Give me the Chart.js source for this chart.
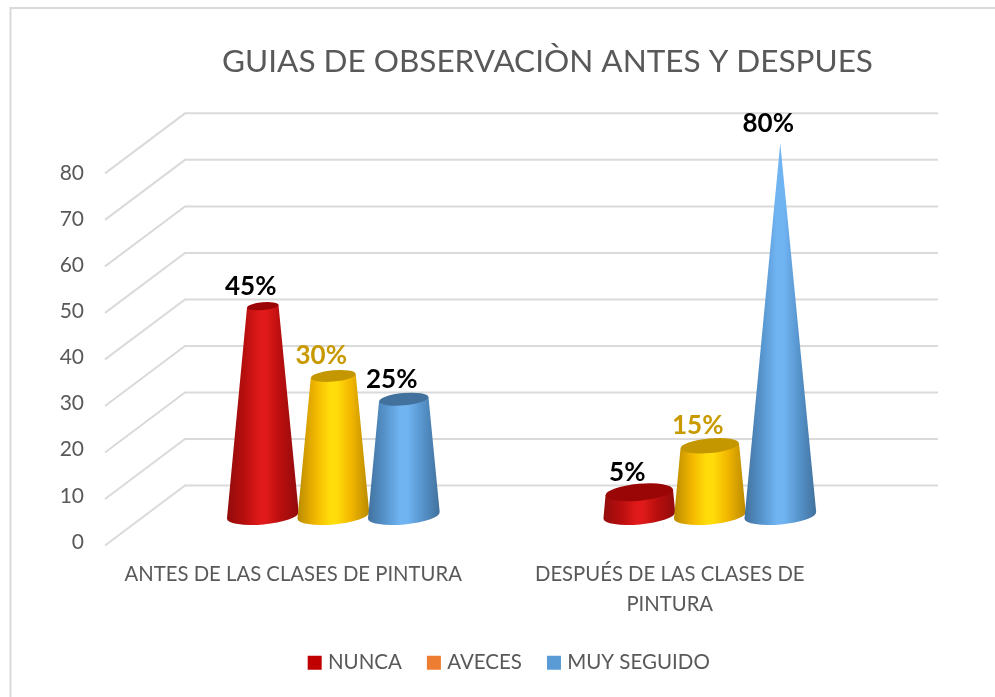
<!DOCTYPE html>
<html>
<head>
<meta charset="utf-8">
<style>
  html, body { margin: 0; background: #fff; }
  #wrap { width: 995px; height: 697px; }
</style>
<script src="https://cdn.jsdelivr.net/npm/chart.js@4/dist/chart.umd.min.js"></script>
</head>
<body>
<div id="wrap"><canvas id="chart" width="995" height="697"></canvas></div>
<script>
const chartTitle = 'GUIAS DE OBSERVACIÒN ANTES Y DESPUES';
const categories = ['ANTES DE LAS CLASES DE PINTURA', ['DESPUÉS DE LAS CLASES DE', 'PINTURA']];
const nunca = [45, 5];
const aveces = [30, 15];
const muySeguido = [25, 80];
const yTicks = [0, 10, 20, 30, 40, 50, 60, 70, 80];

const FONT = 'Lato, Carlito, sans-serif';
const GREY = '#595959';
const DEPTH_X = 80;
const DEPTH_Y = 60;
const CONE_TILT = -0.09;
const CONE_FLAT = 0.25;

// colours of the cone sides, edge to centre, and of the top cap
const coneStyles = [
  { edge: '#920c0c', mid: '#b80e0e', light: '#e01a1a', cap: '#9a0505', label: '#000000' },
  { edge: '#b98a00', mid: '#f2b600', light: '#ffdc0a', cap: '#c49600', label: '#c99a00' },
  { edge: '#41719c', mid: '#5795ce', light: '#70b4f2', cap: '#41719c', label: '#000000' },
];

const wallPlugin = {
  id: 'wall',
  afterLayout(chart) {
    // the title sits to the right of the middle in the reference
    chart.titleBlock.left = 100;
    chart.titleBlock.right = 995;
  },
  beforeDraw(chart) {
    // frame of the picture, cut off on the right and at the bottom
    const { ctx } = chart;
    ctx.save();
    ctx.strokeStyle = '#d9d9d9';
    ctx.lineWidth = 2;
    ctx.beginPath();
    ctx.moveTo(10.5, 697);
    ctx.lineTo(10.5, 8);
    ctx.lineTo(995, 8);
    ctx.stroke();
    ctx.restore();
  },
  beforeDatasetsDraw(chart) {
    const { ctx, chartArea, scales } = chart;
    const y = scales.y;
    const y0 = y.getPixelForValue(0);
    ctx.save();
    ctx.strokeStyle = '#dadada';
    ctx.lineWidth = 2;
    yTicks.forEach((tick) => {
      const lineY = y0 - (y0 - y.getPixelForValue(tick)) * 1.008;
      ctx.beginPath();
      ctx.moveTo(chartArea.left, lineY + 3.5);
      ctx.lineTo(chartArea.left + DEPTH_X, lineY + 3.5 - DEPTH_Y);
      ctx.lineTo(chartArea.right + DEPTH_X, lineY + 3.5 - DEPTH_Y);
      ctx.stroke();
    });
    ctx.restore();

    // cones stand halfway into the floor
    const peak = y.max;
    chart.data.datasets.forEach((dataset, d) => {
      const meta = chart.getDatasetMeta(d);
      meta.data.forEach((bar, i) => {
        const value = dataset.data[i];
        const cx = bar.x + DEPTH_X / 2;
        const baseY = y0 + 3.5 - DEPTH_Y / 2;
        const topY = baseY - (y0 - y.getPixelForValue(value)) * 1.008;
        const baseR = bar.width / 2 * 1.02;
        const topR = baseR * (1 - value / peak);
        drawCone(ctx, cx, baseY, topY, baseR, topR, coneStyles[d]);
        ctx.save();
        ctx.font = 'bold 26px ' + FONT;
        ctx.fillStyle = coneStyles[d].label;
        ctx.textAlign = 'center';
        ctx.textBaseline = 'middle';
        ctx.fillText(value + '%', cx - 12, topY - 20);
        ctx.restore();
      });
    });
    return false;
  },
};

function drawCone(ctx, cx, baseY, topY, baseR, topR, style) {
  const grad = ctx.createLinearGradient(cx - baseR, 0, cx + baseR, 0);
  grad.addColorStop(0, style.edge);
  grad.addColorStop(0.25, style.mid);
  grad.addColorStop(0.45, style.light);
  grad.addColorStop(0.55, style.light);
  grad.addColorStop(0.75, style.mid);
  grad.addColorStop(1, style.edge);
  const tiltY = Math.sin(CONE_TILT);
  ctx.save();
  ctx.fillStyle = grad;
  ctx.beginPath();
  ctx.moveTo(cx - topR, topY - topR * tiltY);
  ctx.lineTo(cx + topR, topY + topR * tiltY);
  ctx.lineTo(cx + baseR, baseY + baseR * tiltY);
  ctx.ellipse(cx, baseY, baseR, baseR * CONE_FLAT, CONE_TILT, 0, Math.PI);
  ctx.closePath();
  ctx.fill();
  if (topR > 0) {
    ctx.fillStyle = style.cap;
    ctx.beginPath();
    ctx.ellipse(cx, topY, topR, topR * CONE_FLAT, CONE_TILT, 0, Math.PI * 2);
    ctx.fill();
  }
  ctx.restore();
}

new Chart(document.getElementById('chart'), {
  type: 'bar',
  data: {
    labels: categories,
    datasets: [
      { label: 'NUNCA', data: nunca, backgroundColor: '#c00000' },
      { label: 'AVECES', data: aveces, backgroundColor: '#ed7d31' },
      { label: 'MUY SEGUIDO', data: muySeguido, backgroundColor: '#5b9bd5' },
    ],
  },
  plugins: [wallPlugin],
  options: {
    responsive: false,
    animation: false,
    categoryPercentage: 0.5618,
    barPercentage: 1,
    layout: { padding: { left: 26.5, right: 0, top: 43, bottom: 14 } },
    plugins: {
      title: {
        display: true,
        text: chartTitle,
        color: GREY,
        font: { family: FONT, size: 31.5, weight: 'normal' },
        padding: { top: 0, bottom: 92 },
      },
      legend: {
        position: 'bottom',
        labels: {
          usePointStyle: true,
          pointStyle: 'rect',
          boxWidth: 6,
          boxHeight: 14,
          color: GREY,
          font: { family: FONT, size: 20.5 },
          padding: 29,
        },
      },
      tooltip: { enabled: false },
    },
    scales: {
      x: {
        grid: { display: false },
        border: { display: false },
        ticks: {
          color: GREY,
          font: { family: FONT, size: 20.3, lineHeight: 1.5 },
          autoSkip: false,
          maxRotation: 0,
          minRotation: 0,
          padding: 9,
        },
        afterFit(scale) { scale.height = 81.5; },
      },
      y: {
        min: 0,
        max: 80,
        grid: { display: false },
        border: { display: false },
        ticks: {
          stepSize: 10,
          color: GREY,
          font: { family: FONT, size: 21 },
          padding: 13,
        },
        afterFit(scale) { scale.width = 78.5; },
      },
      // empty axis, keeps the plot clear of the wall's right side
      side: {
        position: 'right',
        display: true,
        grid: { display: false },
        border: { display: false },
        ticks: { display: false },
        afterFit(scale) { scale.width = 137; },
      },
    },
  },
});
</script>
</body>
</html>
